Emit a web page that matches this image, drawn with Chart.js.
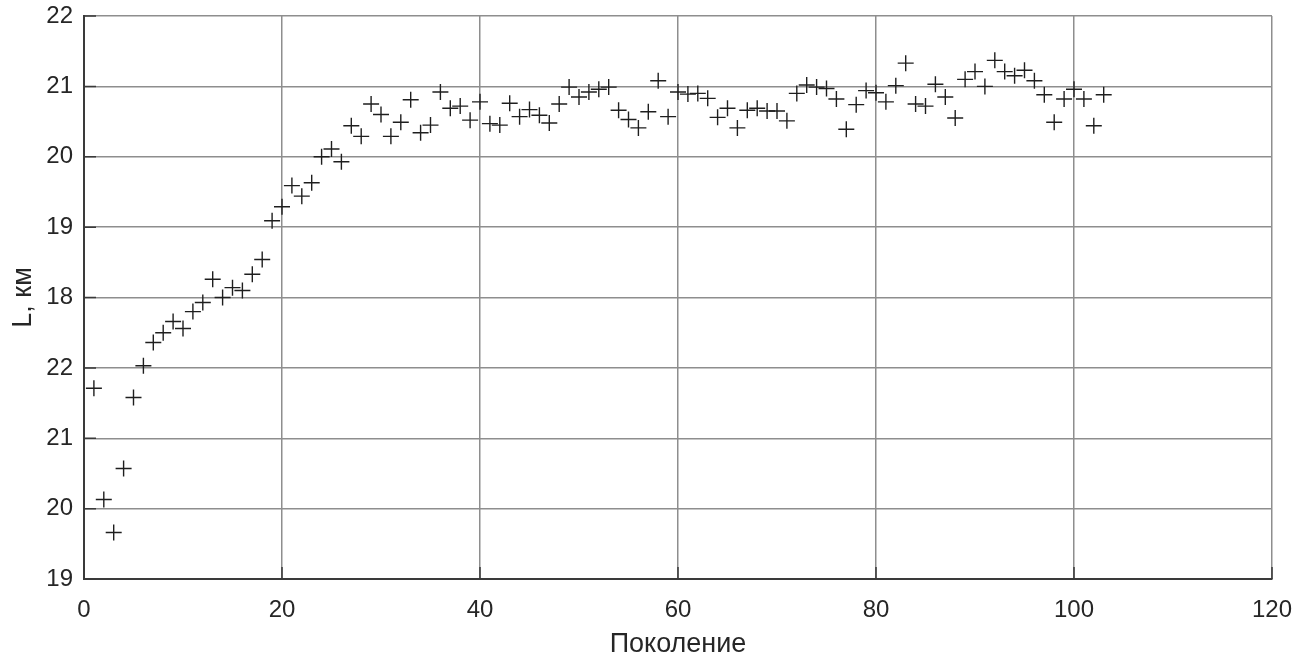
<!DOCTYPE html>
<html>
<head>
<meta charset="utf-8">
<script src="https://cdn.jsdelivr.net/npm/chart.js@4/dist/chart.umd.min.js"></script>
<style>
  html, body { margin: 0; padding: 0; background: #fff; }
  #wrap { width: 1312px; height: 661px; position: relative; }
</style>
</head>
<body>
<div id="wrap"><canvas id="c" width="1312" height="661"></canvas></div>
<script>
// Generation numbers (x) and route length positions on the axis (y, in tick steps)
const generations = [
  1, 2, 3, 4, 5, 6, 7, 8, 9, 10,
  11, 12, 13, 14, 15, 16, 17, 18, 19, 20,
  21, 22, 23, 24, 25, 26, 27, 28, 29, 30,
  31, 32, 33, 34, 35, 36, 37, 38, 39, 40,
  41, 42, 43, 44, 45, 46, 47, 48, 49, 50,
  51, 52, 53, 54, 55, 56, 57, 58, 59, 60,
  61, 62, 63, 64, 65, 66, 67, 68, 69, 70,
  71, 72, 73, 74, 75, 76, 77, 78, 79, 80,
  81, 82, 83, 84, 85, 86, 87, 88, 89, 90,
  91, 92, 93, 94, 95, 96, 97, 98, 99, 100,
  101, 102, 103
];
const lengthValues = [
  2.71, 1.13, 0.66, 1.57, 2.58, 3.03, 3.36, 3.50, 3.66, 3.56,
  3.80, 3.93, 4.26, 4.00, 4.14, 4.10, 4.33, 4.54, 5.09, 5.29,
  5.59, 5.44, 5.63, 6.00, 6.11, 5.93, 6.44, 6.29, 6.75, 6.60,
  6.29, 6.49, 6.81, 6.34, 6.45, 6.92, 6.69, 6.72, 6.52, 6.78,
  6.47, 6.45, 6.76, 6.57, 6.67, 6.59, 6.48, 6.75, 6.99, 6.85,
  6.92, 6.96, 6.99, 6.66, 6.53, 6.41, 6.64, 7.08, 6.57, 6.92,
  6.89, 6.90, 6.83, 6.56, 6.69, 6.41, 6.66, 6.69, 6.65, 6.65,
  6.51, 6.90, 7.02, 6.99, 6.97, 6.82, 6.39, 6.74, 6.94, 6.91,
  6.78, 7.01, 7.33, 6.75, 6.72, 7.03, 6.85, 6.55, 7.10, 7.21,
  7.00, 7.37, 7.21, 7.15, 7.23, 7.08, 6.88, 6.49, 6.82, 6.96,
  6.82, 6.44, 6.88
];
// Y tick labels, bottom to top
const yTickLabels = ['19', '20', '21', '22', '18', '19', '20', '21', '22'];
const xTicks = [0, 20, 40, 60, 80, 100, 120];

const points = generations.map((g, i) => ({ x: g, y: lengthValues[i] }));

const FONT = "'Liberation Sans', Arial, sans-serif";

// Short inward tick marks along the left and bottom axes
const innerTicks = {
  id: 'innerTicks',
  beforeDatasetsDraw(chart) {
    const { ctx, chartArea: a, scales } = chart;
    ctx.save();
    ctx.strokeStyle = '#3a3a3a';
    ctx.lineWidth = 1.5;
    ctx.beginPath();
    scales.y.ticks.forEach(t => {
      const y = scales.y.getPixelForValue(t.value);
      ctx.moveTo(a.left, y); ctx.lineTo(a.left + 12, y);
    });
    scales.x.ticks.forEach(t => {
      const x = scales.x.getPixelForValue(t.value);
      ctx.moveTo(x, a.bottom); ctx.lineTo(x, a.bottom - 12);
    });
    ctx.stroke();
    ctx.restore();
  }
};

new Chart(document.getElementById('c'), {
  type: 'scatter',
  data: {
    datasets: [{
      data: points,
      pointStyle: 'cross',
      pointRadius: 8,
      pointHoverRadius: 8,
      borderColor: '#1e1e1e',
      backgroundColor: '#1e1e1e',
      pointBorderWidth: 1.4
    }]
  },
  options: {
    responsive: false,
    animation: false,
    events: [],
    layout: { padding: 0 },
    plugins: { legend: { display: false }, tooltip: { enabled: false } },
    scales: {
      x: {
        type: 'linear',
        min: 0, max: 120,
        afterFit(s) { s.height = 82; s.paddingLeft = 0; s.paddingRight = 40; },
        afterBuildTicks(s) { s.ticks = xTicks.map(v => ({ value: v })); },
        grid: { color: '#8e8e8e', lineWidth: 1.5, drawTicks: false },
        border: { color: '#3a3a3a', width: 2 },
        ticks: { font: { family: FONT, size: 24 }, color: '#262626', padding: 17, maxRotation: 0 },
        title: { display: true, text: 'Поколение', font: { family: FONT, size: 27 }, color: '#262626', padding: { top: 0, bottom: 0 } }
      },
      y: {
        type: 'linear',
        min: 0, max: 8,
        afterFit(s) { s.width = 84; s.paddingTop = 16; s.paddingBottom = 0; },
        afterBuildTicks(s) { s.ticks = yTickLabels.map((_, i) => ({ value: i })); },
        grid: { color: '#8e8e8e', lineWidth: 1.5, drawTicks: false },
        border: { color: '#3a3a3a', width: 2 },
        ticks: {
          font: { family: FONT, size: 24 }, color: '#262626', padding: 11,
          callback: (v) => yTickLabels[v]
        },
        title: { display: true, text: 'L, км', font: { family: FONT, size: 27 }, color: '#262626', padding: { top: 7, bottom: 0 } }
      }
    }
  },
  plugins: [innerTicks]
});
</script>
</body>
</html>
